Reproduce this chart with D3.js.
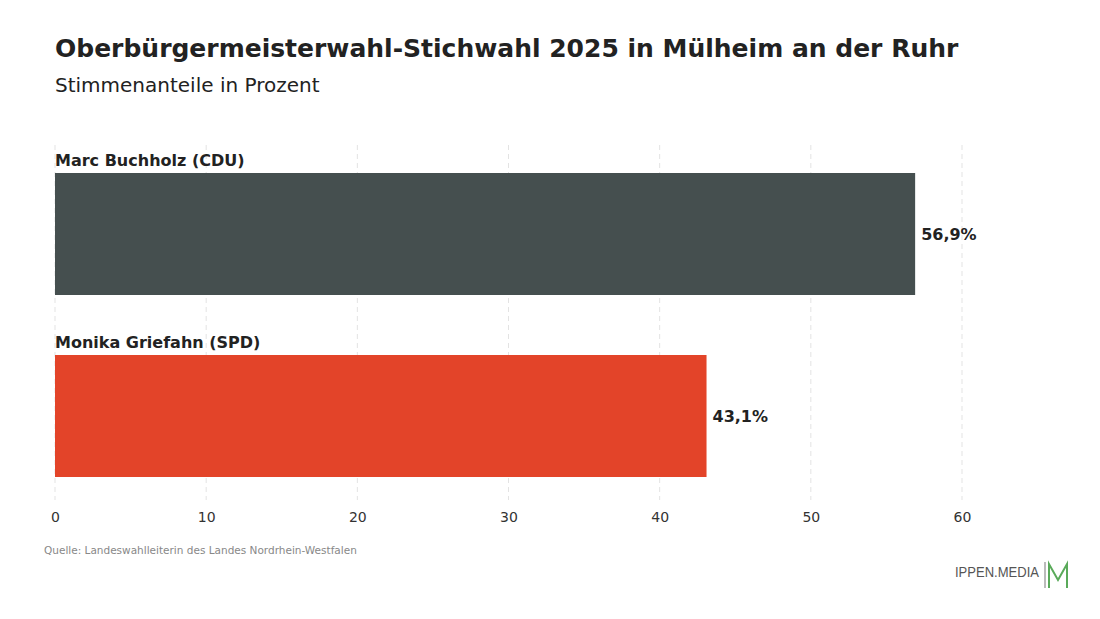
<!DOCTYPE html>
<html><head><meta charset="utf-8">
<script src="https://cdn.jsdelivr.net/npm/d3@7"></script>
<style>body{margin:0;background:#fff;font-family:"DejaVu Sans",sans-serif;}</style>
</head><body><svg id="c" width="1100" height="619"></svg>
<script>
const candidates = ["Marc Buchholz (CDU)", "Monika Griefahn (SPD)"];
const values = [56.9, 43.1];
const colors = ["#454f4f", "#e34429"];
const ticks = [0, 10, 20, 30, 40, 50, 60];

const svg = d3.select("#c");
svg.append("text").attr("x",55).attr("y",57).attr("font-size",25).attr("font-weight","bold").attr("fill","#222")
  .text("Oberbürgermeisterwahl-Stichwahl 2025 in Mülheim an der Ruhr");
svg.append("text").attr("x",55).attr("y",92).attr("font-size",20).attr("fill","#222").text("Stimmenanteile in Prozent");

const x = d3.scaleLinear().domain([0,60]).range([55,962]);
const y = d3.scaleBand().domain(candidates).range([143,507]).paddingInner(60/182).paddingOuter(30/182);

svg.selectAll(".g").data(ticks).enter().append("line")
  .attr("x1",d=>x(d)).attr("x2",d=>x(d)).attr("y1",145).attr("y2",500)
  .attr("stroke","#e3e3e3").attr("stroke-dasharray","5,4");

const ax = svg.append("g").attr("transform","translate(0,506)").call(d3.axisBottom(x).tickValues(ticks).tickSize(0).tickPadding(6));
ax.select(".domain").remove();
ax.selectAll("text").attr("font-size",14).attr("fill","#333").attr("font-family","DejaVu Sans");

candidates.forEach((c,i)=>{
  const by = y(c);
  svg.append("rect").attr("x",x(0)).attr("y",by).attr("width",x(values[i])-x(0)).attr("height",y.bandwidth()).attr("fill",colors[i]);
  svg.append("text").attr("x",55).attr("y",by-7).attr("font-size",16).attr("font-weight","bold").attr("fill","#222").text(c);
  svg.append("text").attr("x",x(values[i])+6).attr("y",by+y.bandwidth()/2+6).attr("font-size",16).attr("font-weight","bold").attr("fill","#222")
    .text(values[i].toFixed(1).replace(".",",")+"%");
});

svg.append("text").attr("x",44).attr("y",554).attr("font-size",10.5).attr("fill","#888").text("Quelle: Landeswahlleiterin des Landes Nordrhein-Westfalen");
svg.append("text").attr("x",955).attr("y",577).attr("font-size",14).attr("fill","#555").attr("font-family","Liberation Sans Narrow, Liberation Sans").attr("textLength",84).attr("lengthAdjust","spacingAndGlyphs").text("IPPEN.MEDIA");
svg.append("line").attr("x1",1045).attr("x2",1045).attr("y1",562).attr("y2",588).attr("stroke","#bbb").attr("stroke-width",2);
svg.append("path").attr("d","M1049,588 L1049,564 L1058,580 L1067,564 L1067,588").attr("fill","none").attr("stroke","#5aaa5a").attr("stroke-width",2);
</script></body></html>
